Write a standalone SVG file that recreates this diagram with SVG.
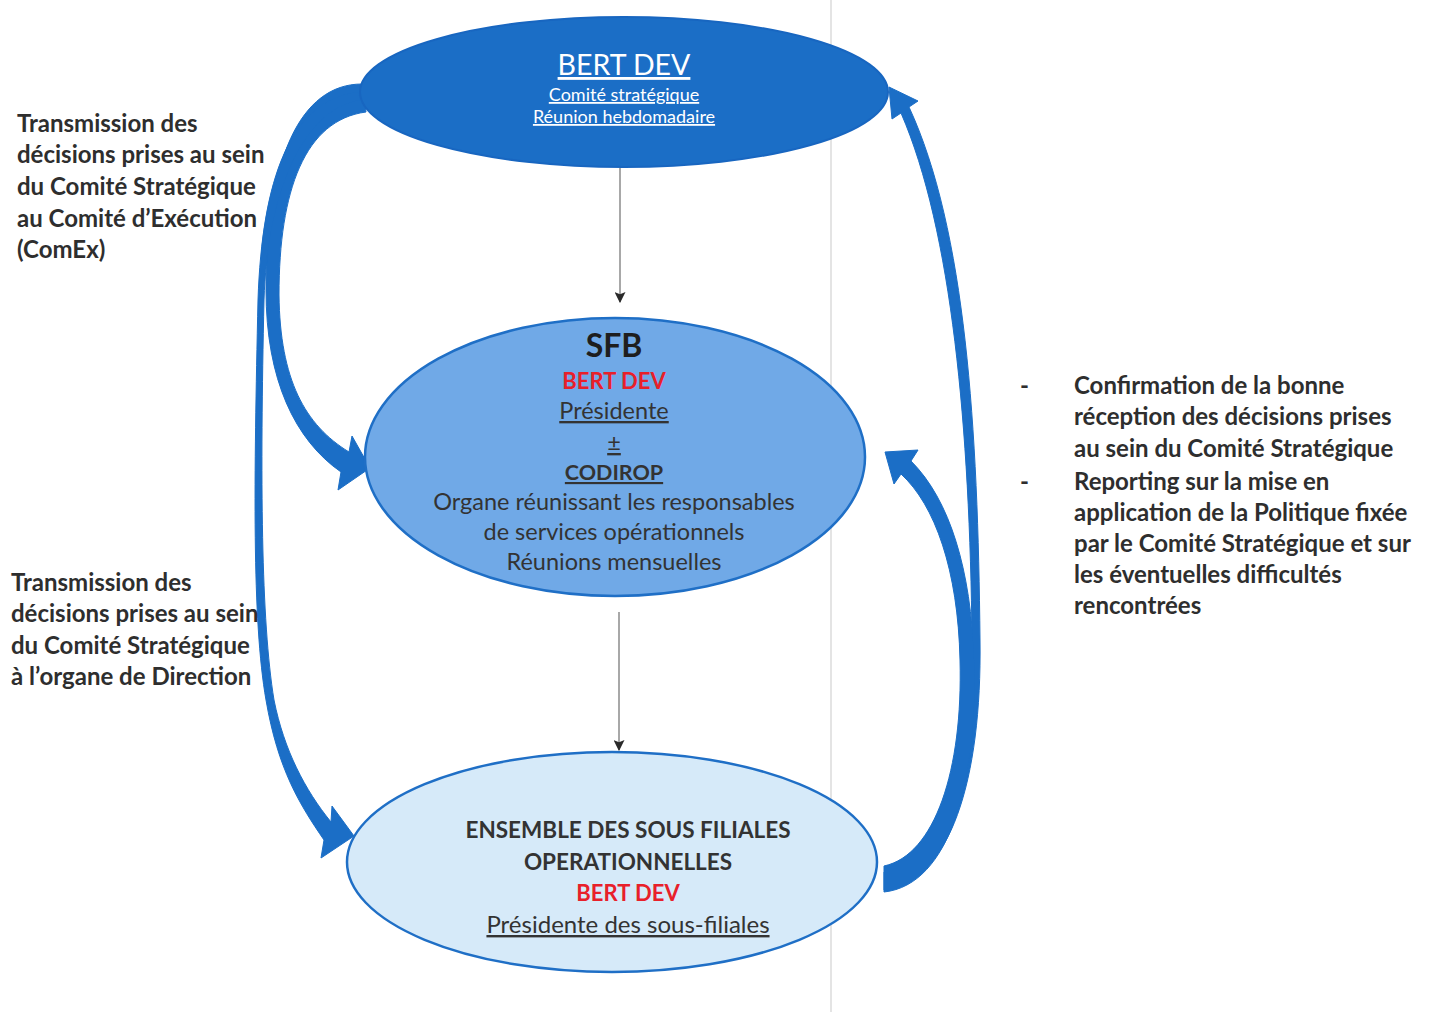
<svg xmlns="http://www.w3.org/2000/svg" width="1436" height="1012" viewBox="0 0 1436 1012">
<style>
text{font-family:Lato,"Open Sans","Liberation Sans",sans-serif;}
.lbl{font-size:24px;font-weight:bold;fill:#2e2e2e;}
.c{text-anchor:middle;}
.reg{font-size:23.5px;fill:#333;}
.b{font-weight:bold;}
.u{text-decoration:underline;}
.red{fill:#e8202a;font-weight:bold;font-size:22px;}
.arr{fill:#1b6ec6;stroke:#1b6ec6;stroke-width:1;stroke-linejoin:round;}
.conn{stroke:#a8a8a8;stroke-width:2;fill:none;}
</style>
<defs>
<marker id="ah" viewBox="0 0 10 10" refX="9" refY="5" markerWidth="11" markerHeight="11" orient="auto" markerUnits="userSpaceOnUse">
<path d="M0,0 L10,5 L0,10 L2,5 Z" fill="#2a2a2a"/>
</marker>
</defs>
<rect width="1436" height="1012" fill="#ffffff"/>
<line x1="831" y1="0" x2="831" y2="1012" stroke="#e4e4e4" stroke-width="2"/>

<g id="connectors">
<path class="arr" d="M 362,84 C 300,84 266,160 266,290 C 266,380 295,440 341,472 L 338,490 L 370,468 L 352,436 L 349,452 C 305,425 280,380 279,295 C 279,190 305,120 366,112 Z"/>
<path class="arr" d="M 358,92 C 290,100 262,180 258,300 C 254,480 252,620 266,700 C 278,770 300,805 324,840 L 321,858 L 354,836 L 332,806 L 331,822 C 305,790 284,750 274,700 C 261,620 260,480 264,300 C 267,200 300,110 360,100 Z"/>
<path class="arr" d="M 884,890 C 950,882 982,780 980,640 C 978,430 966,230 909,107 L 918,101 L 889,87 L 892,119 L 901,113 C 952,230 970,430 972,640 C 974,770 945,855 884,872 Z"/>
<path class="arr" d="M 884,892 C 950,885 978,780 974,660 C 971,570 950,500 911,461 L 918,450 L 885,452 L 894,484 L 901,474 C 935,505 958,570 960,660 C 963,770 935,855 884,866 Z"/>
<line class="conn" x1="620" y1="168" x2="620" y2="302" marker-end="url(#ah)"/>
<line class="conn" x1="619" y1="612" x2="619" y2="750" marker-end="url(#ah)"/>
</g>

<g id="bertdev">
<ellipse cx="624" cy="92" rx="264" ry="75" fill="#1b6ec6" stroke="#1866c0" stroke-width="2"/>
<text x="624" y="75" class="c u" style="font-size:28.5px;fill:#ffffff">BERT DEV</text>
<text x="624" y="101" class="c u" style="font-size:18px;fill:#ffffff">Comité stratégique</text>
<text x="624" y="123" class="c u" style="font-size:18px;fill:#ffffff">Réunion hebdomadaire</text>
</g>

<g id="sfb">
<ellipse cx="615" cy="457" rx="250" ry="139" fill="#70a9e7" stroke="#1f6fc6" stroke-width="2.5"/>
<text x="614" y="357" class="c b" style="font-size:32px;fill:#1e1e1e">SFB</text>
<text x="614" y="389" class="c red">BERT DEV</text>
<text x="614" y="419" class="c reg u">Présidente</text>
<text x="614" y="451" class="c reg u">±</text>
<text x="614" y="480" class="c reg b u" style="font-size:21.5px">CODIROP</text>
<text x="614" y="510" class="c reg">Organe réunissant les responsables</text>
<text x="614" y="540" class="c reg">de services opérationnels</text>
<text x="614" y="570" class="c reg">Réunions mensuelles</text>
</g>

<g id="filiales">
<ellipse cx="612" cy="862" rx="265" ry="110" fill="#d6eaf9" stroke="#1f6fc6" stroke-width="2.5"/>
<text x="628" y="838" class="c reg b" style="font-size:22.5px">ENSEMBLE DES SOUS FILIALES</text>
<text x="628" y="870" class="c reg b" style="font-size:22.5px">OPERATIONNELLES</text>
<text x="628" y="901" class="c red">BERT DEV</text>
<text x="628" y="933" class="c reg u" style="font-size:24px">Présidente des sous-filiales</text>
</g>

<g id="label-comex">
<text class="lbl" x="17" y="132">Transmission des</text>
<text class="lbl" x="17" y="163">décisions prises au sein</text>
<text class="lbl" x="17" y="195">du Comité Stratégique</text>
<text class="lbl" x="17" y="227">au Comité d’Exécution</text>
<text class="lbl" x="17" y="258">(ComEx)</text>
</g>

<g id="label-direction">
<text class="lbl" x="11" y="591">Transmission des</text>
<text class="lbl" x="11" y="622">décisions prises au sein</text>
<text class="lbl" x="11" y="654">du Comité Stratégique</text>
<text class="lbl" x="11" y="685">à l’organe de Direction</text>
</g>

<g id="label-reporting">
<text class="lbl" x="1020" y="394">-</text>
<text class="lbl" x="1074" y="394">Confirmation de la bonne</text>
<text class="lbl" x="1074" y="425">réception des décisions prises</text>
<text class="lbl" x="1074" y="457">au sein du Comité Stratégique</text>
<text class="lbl" x="1020" y="490">-</text>
<text class="lbl" x="1074" y="490">Reporting sur la mise en</text>
<text class="lbl" x="1074" y="521">application de la Politique fixée</text>
<text class="lbl" x="1074" y="552">par le Comité Stratégique et sur</text>
<text class="lbl" x="1074" y="583">les éventuelles difficultés</text>
<text class="lbl" x="1074" y="614">rencontrées</text>
</g>
</svg>
